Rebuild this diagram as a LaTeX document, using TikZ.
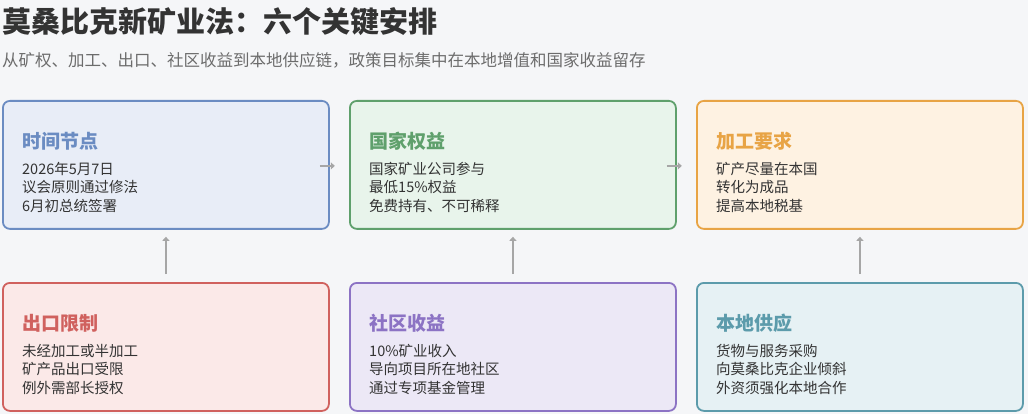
\documentclass[tikz,border=0pt]{standalone}
\usepackage{fontspec}
\setmainfont{Noto Sans CJK SC}
\usetikzlibrary{positioning,arrows.meta}
\definecolor{bgc}{HTML}{F5F6F8}
\definecolor{bluL}{HTML}{6B8CC2}\definecolor{bluF}{HTML}{E8EDF7}
\definecolor{grnL}{HTML}{5FA06C}\definecolor{grnF}{HTML}{E8F4EB}
\definecolor{orgL}{HTML}{E8A445}\definecolor{orgF}{HTML}{FEF2E2}
\definecolor{redL}{HTML}{D0615E}\definecolor{redF}{HTML}{FBE9E8}
\definecolor{purL}{HTML}{8C73C4}\definecolor{purF}{HTML}{ECE8F6}
\definecolor{tealL}{HTML}{5C9BAB}\definecolor{tealF}{HTML}{E6F1F4}
\definecolor{txt}{HTML}{333333}
\tikzset{
  card/.style={draw=#1L, fill=#1F, line width=1.8pt, rounded corners=7pt,
    minimum width=326pt, minimum height=128pt, anchor=north west},
  head/.style={anchor=west, inner sep=0pt, font=\fontsize{19}{22}\selectfont\bfseries, text=#1L},
  body/.style={anchor=north west, inner sep=0pt, align=left, text=txt, font=\fontsize{14.5}{18.5}\selectfont},
  link/.style={draw=gray!70, line width=1.8pt, -{Triangle[length=4pt,width=7pt]}}
}
\begin{document}
\begin{tikzpicture}[x=1pt,y=-1pt]
\fill[bgc] (0,0) rectangle (1028,414);
\node[anchor=west, inner sep=0pt, font=\fontsize{29}{32}\selectfont\bfseries, text=txt] (title) at (2,22) {莫桑比克新矿业法：六个关键安排};
\node[anchor=west, inner sep=0pt, font=\fontsize{16.5}{19}\selectfont, text=gray!85!black] (sub) at (2,60) {从矿权、加工、出口、社区收益到本地供应链，政策目标集中在本地增值和国家收益留存};
% top row
\node[card=blu] (time) at (2,100) {};
\node[card=grn] (state) at (349,100) {};
\node[card=org] (proc) at (696,100) {};
% bottom row
\node[card=red] (export) at (2,282) {};
\node[card=pur] (comm) at (349,282) {};
\node[card=teal] (local) at (696,282) {};
\foreach \b/\c/\h/\t in {time/blu/时间节点/{2026年5月7日\\议会原则通过修法\\6月初总统签署},
  state/grn/国家权益/{国家矿业公司参与\\最低15\%权益\\免费持有、不可稀释},
  proc/org/加工要求/{矿产尽量在本国\\转化为成品\\提高本地税基},
  export/red/出口限制/{未经加工或半加工\\矿产品出口受限\\例外需部长授权},
  comm/pur/社区收益/{10\%矿业收入\\导向项目所在地社区\\通过专项基金管理},
  local/teal/本地供应/{货物与服务采购\\向莫桑比克企业倾斜\\外资须强化本地合作}}{
  \node[head=\c] (\b-h) at ([xshift=20pt,yshift=-41pt]\b.north west) {\h};
  \node[body] (\b-t) at ([xshift=20pt,yshift=-62pt]\b.north west) {\t};
}
\draw[link] ([xshift=-10pt,yshift=-1pt]time.east) -- ([xshift=5pt,yshift=-1pt]time.east);
\draw[link] ([xshift=-10pt,yshift=-1pt]state.east) -- ([xshift=5pt,yshift=-1pt]state.east);
\draw[link] ([yshift=8pt]export.north) -- ([yshift=-7pt]time.south);
\draw[link] ([yshift=8pt]comm.north) -- ([yshift=-7pt]state.south);
\draw[link] ([yshift=8pt]local.north) -- ([yshift=-7pt]proc.south);
\end{tikzpicture}
\end{document}
